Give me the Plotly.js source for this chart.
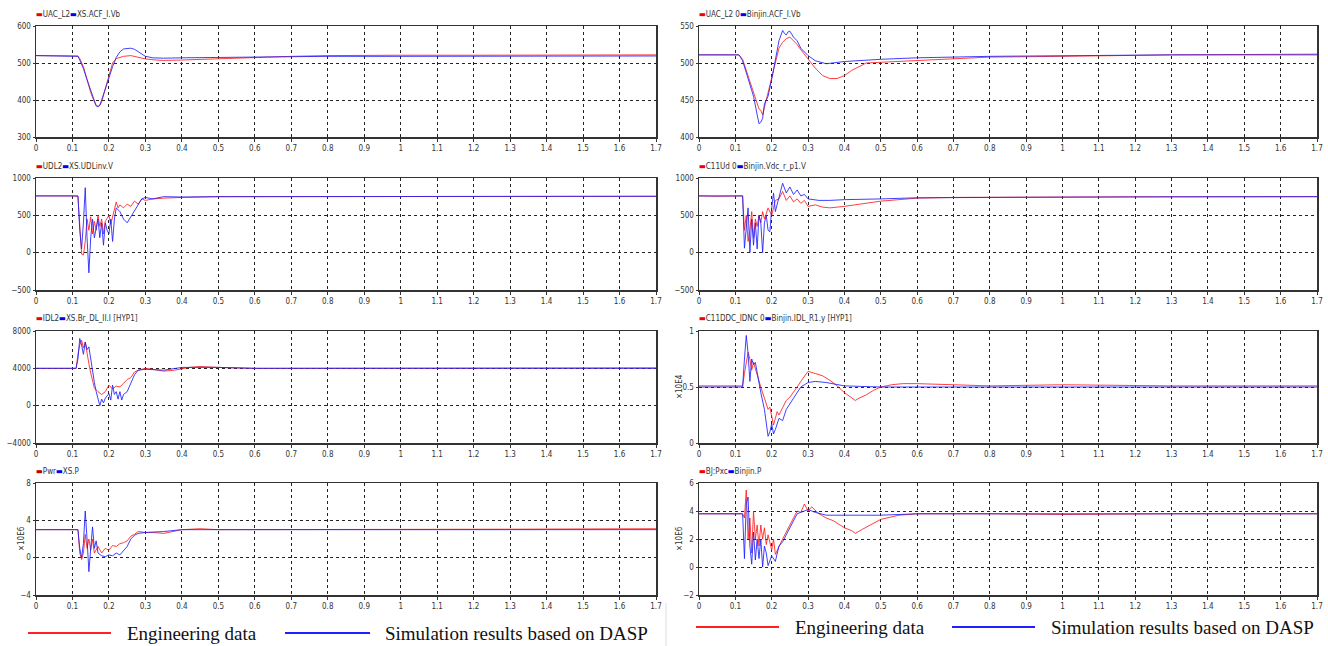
<!DOCTYPE html>
<html>
<head>
<meta charset="utf-8">
<script src="https://cdn.plot.ly/plotly-3.0.1.min.js"></script>
<style>html,body{margin:0;padding:0;background:#fff;}#chart{width:1328px;height:646px;}</style>
</head>
<body>
<div id="chart"></div>
<script>
// ---------- Data ----------
// Left column (XS station)
var tL1r = [0,0.05,0.11,0.115,0.12,0.13,0.14,0.15,0.16,0.165,0.17,0.175,0.18,0.19,0.2,0.21,0.22,0.24,0.26,0.28,0.3,0.33,0.35,0.4,0.45,0.5,0.6,0.7,0.8,0.9,1.0,1.2,1.4,1.7];
var redL1  = [520,520,520,519,512,490,455,420,395,385,383,385,395,430,465,500,512,518,520,516,511,508,507,508,510,512,515,518,520,521,521,521,522,522];
var tL1b = [0,0.05,0.11,0.115,0.12,0.13,0.14,0.15,0.16,0.165,0.17,0.175,0.18,0.19,0.2,0.21,0.22,0.23,0.24,0.25,0.26,0.27,0.28,0.29,0.3,0.32,0.35,0.4,0.5,0.6,0.8,1.0,1.3,1.7];
var blueL1 = [520,520,520,518,508,485,455,425,395,384,382,386,400,430,462,490,515,530,538,540,540,537,530,524,518,514,513,514,515,517,518,518,519,519];

var tL2r = [0,0.05,0.1,0.115,0.12,0.125,0.13,0.135,0.14,0.145,0.15,0.155,0.16,0.165,0.17,0.175,0.18,0.185,0.19,0.2,0.205,0.21,0.215,0.22,0.225,0.23,0.24,0.25,0.26,0.27,0.28,0.29,0.3,0.32,0.35,0.4,0.5,0.6,0.8,1.0,1.3,1.7];
var redL2  = [760,765,760,755,400,-20,-30,150,450,300,480,250,420,300,500,350,450,250,420,500,380,480,560,680,600,640,600,650,620,690,650,720,700,720,730,740,750,750,752,755,755,755];
var tL2b = [0,0.05,0.1,0.115,0.12,0.125,0.13,0.135,0.14,0.145,0.15,0.155,0.16,0.165,0.17,0.175,0.18,0.185,0.19,0.195,0.2,0.205,0.21,0.215,0.22,0.23,0.24,0.25,0.26,0.27,0.28,0.29,0.3,0.32,0.35,0.4,0.5,0.6,0.8,1.0,1.3,1.7];
var blueL2 = [760,760,760,760,300,50,400,870,200,-270,200,450,200,350,450,200,400,100,400,300,250,450,150,450,600,550,450,400,480,560,650,720,740,720,750,745,750,750,752,752,755,755];

var tL3r = [0,0.05,0.11,0.115,0.12,0.125,0.13,0.135,0.14,0.145,0.15,0.155,0.16,0.17,0.18,0.19,0.2,0.21,0.22,0.23,0.24,0.25,0.26,0.27,0.28,0.3,0.32,0.35,0.38,0.42,0.45,0.5,0.6,0.8,1.0,1.3,1.7];
var redL3  = [4000,4000,4000,5500,6500,7000,6200,6800,5500,4500,3500,2500,1900,1500,1200,1500,2200,1800,2100,2000,2400,2800,3000,3600,3800,4000,3900,3700,3800,4100,4200,4100,4000,4000,4050,4000,4050];
var tL3b = [0,0.05,0.11,0.115,0.12,0.125,0.13,0.135,0.14,0.145,0.15,0.155,0.16,0.165,0.17,0.175,0.18,0.185,0.19,0.2,0.205,0.21,0.215,0.22,0.225,0.23,0.235,0.24,0.25,0.26,0.27,0.28,0.3,0.35,0.4,0.5,0.6,0.8,1.0,1.3,1.7];
var blueL3 = [4000,4000,4000,5000,7200,6500,5500,6800,6000,6300,5000,3500,2500,1500,800,0,700,300,800,1300,600,2200,1200,1500,700,1500,600,1200,1500,2500,3300,3800,3900,3800,4100,4100,4000,4000,4000,4000,4000];

var tL4r = [0,0.05,0.11,0.115,0.12,0.125,0.13,0.135,0.14,0.145,0.15,0.155,0.16,0.17,0.18,0.19,0.2,0.21,0.22,0.23,0.24,0.25,0.26,0.27,0.28,0.3,0.32,0.35,0.4,0.45,0.5,0.6,0.8,1.0,1.3,1.7];
var redL4  = [3.0,3.0,3.0,3.0,0.5,-0.2,0.5,2.5,1.0,2.0,0.8,2.0,0.5,1.2,0.5,1.0,0.8,1.3,1.2,1.5,1.6,1.8,2.3,2.5,2.8,2.7,2.7,2.6,3.0,3.1,3.0,3.0,3.0,3.05,3.05,3.1];
var tL4b = [0,0.05,0.11,0.115,0.12,0.125,0.13,0.135,0.14,0.145,0.15,0.155,0.16,0.165,0.17,0.18,0.19,0.2,0.21,0.22,0.23,0.24,0.25,0.26,0.27,0.28,0.3,0.35,0.4,0.5,0.6,0.8,1.0,1.3,1.7];
var blueL4 = [3.0,3.0,3.0,3.0,1.0,0.0,1.5,5.0,2.0,-1.5,1.0,3.3,1.0,1.8,0.5,0.2,0.1,0.3,0.2,0.5,0.3,0.8,1.2,2.0,2.4,2.6,2.7,2.8,3.0,3.0,3.0,3.0,3.0,3.0,3.0];

// Right column (Binjin station)
var tR1r = [0,0.05,0.11,0.12,0.13,0.14,0.15,0.16,0.165,0.17,0.175,0.18,0.185,0.19,0.2,0.21,0.22,0.23,0.24,0.25,0.26,0.27,0.28,0.3,0.32,0.34,0.36,0.38,0.4,0.42,0.46,0.5,0.6,0.7,0.8,1.0,1.3,1.7];
var redR1  = [511,511,511,505,490,475,462,445,438,436,430,440,450,458,480,500,520,528,533,535,530,525,518,505,493,483,479,479,483,490,500,501,503,506,508,509,511,512];
var tR1b = [0,0.05,0.11,0.12,0.13,0.14,0.15,0.16,0.165,0.17,0.175,0.18,0.19,0.2,0.21,0.22,0.23,0.235,0.24,0.245,0.25,0.26,0.27,0.28,0.3,0.32,0.35,0.4,0.5,0.6,0.8,1.0,1.3,1.7];
var blueR1 = [511,511,511,503,488,470,455,430,418,420,425,445,455,478,505,530,544,540,538,542,543,535,530,520,510,503,499,502,505,507,509,510,511,511];

var tR2r = [0,0.05,0.12,0.125,0.13,0.135,0.14,0.145,0.15,0.155,0.16,0.165,0.17,0.175,0.18,0.19,0.2,0.21,0.22,0.23,0.24,0.25,0.26,0.27,0.28,0.29,0.3,0.32,0.34,0.36,0.4,0.45,0.5,0.55,0.6,0.7,0.9,1.2,1.7];
var redR2  = [760,755,760,300,500,150,300,550,200,450,350,500,400,550,450,600,500,700,720,820,700,760,680,720,660,700,620,640,610,600,620,660,690,710,730,740,745,748,750];
var tR2b = [0,0.05,0.12,0.125,0.13,0.135,0.14,0.145,0.15,0.155,0.16,0.165,0.17,0.175,0.18,0.185,0.19,0.195,0.2,0.205,0.21,0.22,0.23,0.24,0.25,0.26,0.27,0.28,0.29,0.3,0.33,0.36,0.4,0.5,0.6,0.8,1.0,1.3,1.7];
var blueR2 = [760,760,760,60,350,600,0,450,100,400,50,500,400,0,400,500,300,280,600,800,550,750,930,800,880,780,840,760,780,720,700,700,710,720,735,740,745,748,750];

var tR3r = [0,0.05,0.12,0.125,0.13,0.135,0.14,0.145,0.15,0.16,0.17,0.18,0.19,0.195,0.2,0.205,0.21,0.215,0.22,0.23,0.24,0.25,0.26,0.27,0.28,0.29,0.3,0.32,0.34,0.36,0.38,0.4,0.42,0.43,0.44,0.46,0.48,0.5,0.53,0.56,0.6,0.7,0.8,1.0,1.3,1.7];
var redR3  = [0.51,0.51,0.51,0.62,0.70,0.81,0.75,0.65,0.72,0.60,0.50,0.40,0.30,0.32,0.22,0.16,0.22,0.28,0.25,0.32,0.38,0.41,0.45,0.50,0.55,0.60,0.64,0.62,0.60,0.56,0.51,0.45,0.40,0.38,0.40,0.43,0.47,0.50,0.52,0.53,0.53,0.52,0.51,0.52,0.51,0.51];
var tR3b = [0,0.05,0.12,0.125,0.13,0.135,0.14,0.145,0.15,0.155,0.16,0.17,0.18,0.185,0.19,0.195,0.2,0.205,0.21,0.22,0.23,0.24,0.26,0.28,0.3,0.32,0.35,0.4,0.5,0.6,0.8,1.0,1.3,1.7];
var blueR3 = [0.50,0.50,0.50,0.75,0.96,0.80,0.55,0.75,0.70,0.72,0.62,0.45,0.30,0.20,0.06,0.10,0.17,0.08,0.12,0.22,0.20,0.30,0.40,0.50,0.54,0.55,0.54,0.51,0.50,0.50,0.50,0.50,0.50,0.50];

var tR4r = [0,0.05,0.12,0.125,0.13,0.135,0.14,0.145,0.15,0.155,0.16,0.165,0.17,0.175,0.18,0.185,0.19,0.2,0.205,0.21,0.22,0.23,0.24,0.25,0.26,0.27,0.28,0.29,0.3,0.31,0.33,0.35,0.37,0.4,0.42,0.43,0.45,0.48,0.5,0.55,0.6,0.8,1.0,1.3,1.7];
var redR4  = [3.8,3.8,3.8,3.5,5.5,2.0,3.5,1.0,4.0,2.0,3.0,1.5,3.0,2.0,2.8,1.6,2.3,1.2,2.0,0.9,1.5,2.0,2.5,3.0,3.4,4.0,3.9,4.5,4.0,4.3,3.8,3.5,3.3,2.8,2.6,2.4,2.7,3.1,3.4,3.7,3.8,3.8,3.75,3.8,3.8];
var tR4b = [0,0.05,0.12,0.125,0.13,0.135,0.14,0.145,0.15,0.155,0.16,0.165,0.17,0.175,0.18,0.185,0.19,0.2,0.21,0.22,0.23,0.24,0.25,0.26,0.27,0.28,0.3,0.32,0.35,0.4,0.5,0.6,0.8,1.0,1.3,1.7];
var blueR4 = [3.8,3.8,3.8,0.6,4.5,5.0,1.5,0.2,2.5,0.5,2.0,0.6,2.0,0.0,1.5,1.0,0.1,0.8,0.4,1.5,1.8,2.3,2.8,3.4,3.8,3.9,4.1,3.9,3.7,3.7,3.7,3.8,3.8,3.8,3.8,3.8];

// Tick labels / series names
var xTicks = [0,0.1,0.2,0.3,0.4,0.5,0.6,0.7,0.8,0.9,1,1.1,1.2,1.3,1.4,1.5,1.6,1.7];
var xTickText = ["0","0.1","0.2","0.3","0.4","0.5","0.6","0.7","0.8","0.9","1","1.1","1.2","1.3","1.4","1.5","1.6","1.7"];
var yTicksL = [[300,400,500,600],[-500,0,500,1000],[-4000,0,4000,8000],[-4,0,4,8]];
var yTicksR = [[400,450,500,550],[-500,0,500,1000],[0,0.5,1],[-2,0,2,4,6]];
var namesL = [["UAC_L2","XS.ACF_I.Vb"],["UDL2","XS.UDLinv.V"],["IDL2","XS.Br_DL_II.I [HYP1]"],["Pwr","XS.P"]];
var namesR = [["UAC_L2 0","Binjin.ACF_I.Vb"],["C11Ud 0","Binjin.Vdc_r_p1.V"],["C11DDC_IDNC 0","Binjin.IDL_R1.y [HYP1]"],["BJ:Pxc","Binjin.P"]];
var unitL = ["","","","×10E6"];
var unitR = ["","","×10E4","×10E6"];
var legendNames = ["Engineering data","Simulation results based on DASP"];

// ---------- Build ----------
var W = 1328, H = 646;
var RED = "rgb(255,30,30)", BLUE = "rgb(30,30,255)";
var leftX = [36/W, 656/W], rightX = [699/W, 1317/W];
var rowPx = [[26,137],[178,290],[331,443],[483,595]];
function ydom(r){ return [1 - rowPx[r][1]/H, 1 - rowPx[r][0]/H]; }

var tL = [[tL1r,redL1,tL1b,blueL1],[tL2r,redL2,tL2b,blueL2],[tL3r,redL3,tL3b,blueL3],[tL4r,redL4,tL4b,blueL4]];
var tR = [[tR1r,redR1,tR1b,blueR1],[tR2r,redR2,tR2b,blueR2],[tR3r,redR3,tR3b,blueR3],[tR4r,redR4,tR4b,blueR4]];

var traces = [];
var layout = {
  width: W, height: H,
  margin: {l:0, r:0, t:0, b:0},
  paper_bgcolor: "#fff", plot_bgcolor: "#fff",
  showlegend: false,
  font: {family: "DejaVu Sans Condensed, Liberation Sans Narrow, sans-serif", size: 8, color: "#333"},
  annotations: [], shapes: []
};

var tickFont = {family: "DejaVu Sans Condensed, Liberation Sans Narrow, sans-serif", size: 8, color: "#333"};

function addPanel(idx, dataSet, dom, row, yTicks, names, unit, legendXpx) {
  var xa = "xaxis" + (idx === 1 ? "" : idx), ya = "yaxis" + (idx === 1 ? "" : idx);
  var xr = "x" + (idx === 1 ? "" : idx), yr = "y" + (idx === 1 ? "" : idx);
  traces.push({x: dataSet[0], y: dataSet[1], xaxis: xr, yaxis: yr, type: "scatter", mode: "lines",
    line: {color: RED, width: 1}, opacity: 0.85, name: names[0], hoverinfo: "skip"});
  traces.push({x: dataSet[2], y: dataSet[3], xaxis: xr, yaxis: yr, type: "scatter", mode: "lines",
    line: {color: BLUE, width: 1}, opacity: 0.85, name: names[1], hoverinfo: "skip"});
  layout[xa] = {domain: dom, anchor: yr, range: [0, 1.7], tickvals: xTicks, ticktext: xTickText,
    showgrid: true, gridcolor: "#222", griddash: "dot", gridwidth: 1, zeroline: false,
    showline: true, mirror: true, linecolor: "#333", linewidth: 1.5,
    ticks: "outside", ticklen: 3, tickcolor: "#333", tickfont: tickFont, fixedrange: true};
  layout[ya] = {domain: ydom(row), anchor: xr, range: [yTicks[0], yTicks[yTicks.length-1]], tickvals: yTicks,
    showgrid: true, gridcolor: "#222", griddash: "dot", gridwidth: 1, zeroline: false,
    showline: true, mirror: true, linecolor: "#333", linewidth: 1.5,
    ticks: "outside", ticklen: 2, tickcolor: "#333", tickfont: tickFont, fixedrange: true};
  layout.annotations.push({xref: "paper", yref: "paper", x: legendXpx/W, y: 1 - (rowPx[row][0] - 12)/H,
    xanchor: "left", yanchor: "middle", showarrow: false,
    text: '<span style="color:' + (row === 3 && legendXpx < 600 ? '#b00' : '#e00') + '">▬</span>' + names[0] +
          '<span style="color:#00e">▬</span>' + names[1],
    font: {family: "DejaVu Sans Condensed, Liberation Sans Narrow, sans-serif", size: 8, color: "#333"}});
  if (unit) {
    layout.annotations.push({xref: "paper", yref: "paper", x: (legendXpx < 600 ? 21 : 679)/W,
      y: 1 - ((rowPx[row][0] + rowPx[row][1]) / 2)/H, textangle: -90, showarrow: false,
      xanchor: "center", yanchor: "middle", text: unit,
      font: {family: "DejaVu Sans Condensed, sans-serif", size: 8, color: "#333"}});
  }
}

for (var r = 0; r < 4; r++) {
  addPanel(2*r + 1, tL[r], leftX, r, yTicksL[r], namesL[r], unitL[r], 34);
  addPanel(2*r + 2, tR[r], rightX, r, yTicksR[r], namesR[r], unitR[r], 697);
}

// Bottom legends (two copies)
var serif = {family: "Liberation Serif, Times New Roman, serif", size: 19, color: "#111"};
function bottomLegend(yPx, redSeg, textX1, blueSeg, textX2) {
  layout.shapes.push({type: "line", xref: "paper", yref: "paper", x0: redSeg[0]/W, x1: redSeg[1]/W,
    y0: 1 - yPx/H, y1: 1 - yPx/H, line: {color: "#ff2020", width: 2}});
  layout.shapes.push({type: "line", xref: "paper", yref: "paper", x0: blueSeg[0]/W, x1: blueSeg[1]/W,
    y0: 1 - yPx/H, y1: 1 - yPx/H, line: {color: "#2020ff", width: 2}});
  layout.annotations.push({xref: "paper", yref: "paper", x: textX1/W, y: 1 - yPx/H, xanchor: "left", yanchor: "middle",
    showarrow: false, text: legendNames[0], font: serif});
  layout.annotations.push({xref: "paper", yref: "paper", x: textX2/W, y: 1 - yPx/H, xanchor: "left", yanchor: "middle",
    showarrow: false, text: legendNames[1], font: serif});
}
bottomLegend(633, [28, 111], 125, [285, 370], 383);
bottomLegend(627, [696, 779], 793, [952, 1035], 1049);
layout.shapes.push({type: "line", xref: "paper", yref: "paper", x0: 666/W, x1: 666/W, y0: 0, y1: 1 - 603/H,
  line: {color: "#ddd", width: 1}});

Plotly.newPlot("chart", traces, layout, {displayModeBar: false, staticPlot: true});
</script>
</body>
</html>
